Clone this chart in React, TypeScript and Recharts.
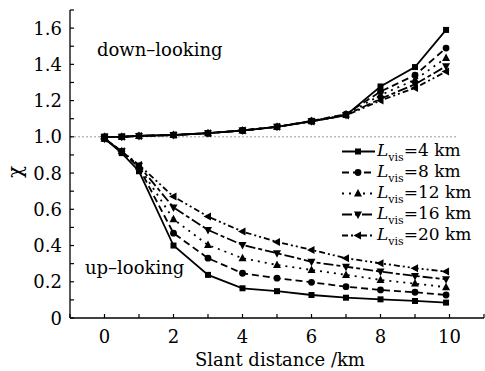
import { Line, LineChart, ReferenceLine, XAxis, YAxis } from 'recharts';

const distances = [0, 0.5, 1, 2, 3, 4, 5, 6, 7, 8, 9, 9.9];

// down-looking
const down4 = [1.0, 1.0, 1.005, 1.01, 1.02, 1.035, 1.055, 1.085, 1.12, 1.278, 1.385, 1.59];
const down8 = [1.0, 1.0, 1.005, 1.01, 1.02, 1.035, 1.055, 1.088, 1.125, 1.25, 1.34, 1.49];
const down12 = [1.0, 1.0, 1.005, 1.01, 1.02, 1.035, 1.055, 1.087, 1.123, 1.23, 1.315, 1.435];
const down16 = [1.0, 1.0, 1.005, 1.01, 1.02, 1.035, 1.055, 1.086, 1.12, 1.21, 1.29, 1.39];
const down20 = [1.0, 1.0, 1.005, 1.01, 1.02, 1.035, 1.055, 1.085, 1.118, 1.2, 1.27, 1.36];

// up-looking
const up4 = [0.99, 0.91, 0.81, 0.4, 0.238, 0.164, 0.148, 0.127, 0.112, 0.103, 0.094, 0.085];
const up8 = [0.99, 0.92, 0.83, 0.468, 0.33, 0.247, 0.22, 0.197, 0.173, 0.155, 0.142, 0.127];
const up12 = [0.99, 0.92, 0.835, 0.545, 0.403, 0.33, 0.293, 0.265, 0.238, 0.21, 0.19, 0.17];
const up16 = [0.99, 0.92, 0.84, 0.61, 0.486, 0.403, 0.358, 0.31, 0.283, 0.256, 0.232, 0.214];
const up20 = [0.99, 0.92, 0.845, 0.67, 0.56, 0.477, 0.42, 0.376, 0.33, 0.302, 0.275, 0.256];

const xTicks = [-1, 0, 1, 2, 3, 4, 5, 6, 7, 8, 9, 10, 11];
const xLabels = [0, 2, 4, 6, 8, 10];
const yTicks = [0, 0.1, 0.2, 0.3, 0.4, 0.5, 0.6, 0.7, 0.8, 0.9, 1.0, 1.1, 1.2, 1.3, 1.4, 1.5, 1.6, 1.7];
const yLabels = ['0', '0.2', '0.4', '0.6', '0.8', '1.0', '1.2', '1.4', '1.6'];

const FONT = '"DejaVu Serif", serif';

type Shape = 'square' | 'circle' | 'up' | 'down' | 'left';

const series: { key: string; vis: number; shape: Shape; dash?: string; down: number[]; up: number[] }[] = [
  { key: 'l20', vis: 20, shape: 'left', dash: '6 3 2 3 2 3', down: down20, up: up20 },
  { key: 'l16', vis: 16, shape: 'down', dash: '10 3 4 3', down: down16, up: up16 },
  { key: 'l12', vis: 12, shape: 'up', dash: '2 5', down: down12, up: up12 },
  { key: 'l8', vis: 8, shape: 'circle', dash: '7 4', down: down8, up: up8 },
  { key: 'l4', vis: 4, shape: 'square', down: down4, up: up4 },
];

const data = distances.map((x, i) => {
  const row: Record<string, number> = { x };
  series.forEach((s) => {
    row[`d_${s.key}`] = s.down[i];
    row[`u_${s.key}`] = s.up[i];
  });
  return row;
});

function Marker({ shape, cx, cy }: { shape: Shape; cx: number; cy: number }) {
  if (cx == null || cy == null) return null;
  switch (shape) {
    case 'square':
      return <rect x={cx - 3} y={cy - 3} width={6} height={6} fill="#000" />;
    case 'circle':
      return <circle cx={cx} cy={cy} r={3.4} fill="#000" />;
    case 'up':
      return <path d={`M${cx},${cy - 4.5}L${cx + 4},${cy + 3}L${cx - 4},${cy + 3}Z`} fill="#000" />;
    case 'down':
      return <path d={`M${cx},${cy + 4.5}L${cx + 4},${cy - 3}L${cx - 4},${cy - 3}Z`} fill="#000" />;
    default:
      return <path d={`M${cx - 4.5},${cy}L${cx + 3},${cy - 4}L${cx + 3},${cy + 4}Z`} fill="#000" />;
  }
}

const XTick = (props: any) => {
  const { x, y, payload } = props;
  const v = payload.value;
  return (
    <g>
      <line x1={x} x2={x} y1={y} y2={y - 4} stroke="#000" strokeWidth={1.2} />
      {xLabels.includes(v) && (
        <text x={x} y={y + 25} textAnchor="middle" fontSize={18} fontFamily={FONT} fill="#000">
          {v}
        </text>
      )}
    </g>
  );
};

const YTick = (props: any) => {
  const { x, y, payload } = props;
  const v = payload.value;
  const idx = Math.round(v * 10);
  const label = idx % 2 === 0 ? yLabels[idx / 2] : null;
  return (
    <g>
      <line x1={x} x2={x + 4} y1={y} y2={y} stroke="#000" strokeWidth={1.2} />
      {label && (
        <text x={x - 8} y={y + 6.5} textAnchor="end" fontSize={18} fontFamily={FONT} fill="#000">
          {label}
        </text>
      )}
    </g>
  );
};

const textStyle = { position: 'absolute' as const, fontFamily: FONT, fontSize: 18, lineHeight: '20px', color: '#000', whiteSpace: 'nowrap' as const };

export default function App() {
  return (
    <div style={{ position: 'absolute', left: 0, top: 0, width: 485, height: 371, background: '#fff' }}>
      <LineChart width={485} height={371} data={data} margin={{ top: 10, right: 1, bottom: 0, left: 0 }}>
        <XAxis
          dataKey="x"
          type="number"
          domain={[-1, 11]}
          ticks={xTicks}
          interval={0}
          tickSize={0}
          tickMargin={0}
          height={53}
          axisLine={{ stroke: '#000', strokeWidth: 1.3 }}
          tickLine={false}
          tick={<XTick />}
        />
        <YAxis
          type="number"
          domain={[0, 1.7]}
          ticks={yTicks}
          interval={0}
          tickSize={0}
          tickMargin={0}
          width={70}
          axisLine={{ stroke: '#000', strokeWidth: 1.3 }}
          tickLine={false}
          tick={<YTick />}
        />
        <ReferenceLine
          segment={[{ x: -1, y: 1 }, { x: 10.25, y: 1 }]}
          stroke="#999"
          strokeDasharray="2 2"
          strokeWidth={1}
        />
        {series.flatMap((s) =>
          ['d', 'u'].map((g) => (
            <Line
              key={`${g}_${s.key}`}
              dataKey={`${g}_${s.key}`}
              type="linear"
              stroke="#000"
              strokeWidth={1.8}
              strokeDasharray={s.dash}
              isAnimationActive={false}
              dot={(p: any) => <Marker key={`${g}_${s.key}_${p.index}`} shape={s.shape} cx={p.cx} cy={p.cy} />}
              activeDot={false}
            />
          ))
        )}
      </LineChart>

      <div style={{ ...textStyle, left: 97, top: 40 }}>down–looking</div>
      <div style={{ ...textStyle, left: 85, top: 258 }}>up–looking</div>
      <div style={{ ...textStyle, left: 195, top: 350 }}>Slant distance /km</div>
      <div
        style={{
          ...textStyle,
          fontSize: 20,
          left: 5,
          top: 162,
          width: 20,
          textAlign: 'center',
          transform: 'rotate(-90deg)',
        }}
      >
        χ
      </div>

      <div style={{ position: 'absolute', left: 340, top: 141 }}>
        {[...series].reverse().map((s) => (
          <div key={s.key} style={{ display: 'flex', alignItems: 'center', height: 21 }}>
            <svg width={37} height={21}>
              <line x1={2} x2={35} y1={10.5} y2={10.5} stroke="#000" strokeWidth={1.8} strokeDasharray={s.dash} />
              <Marker shape={s.shape} cx={18} cy={10.5} />
            </svg>
            <span style={{ fontFamily: FONT, fontSize: 17, lineHeight: '21px', color: '#000', whiteSpace: 'nowrap' }}>
              <i>L</i>
              <span style={{ fontSize: 11, position: 'relative', top: 5 }}>vis</span>={s.vis} km
            </span>
          </div>
        ))}
      </div>
    </div>
  );
}
